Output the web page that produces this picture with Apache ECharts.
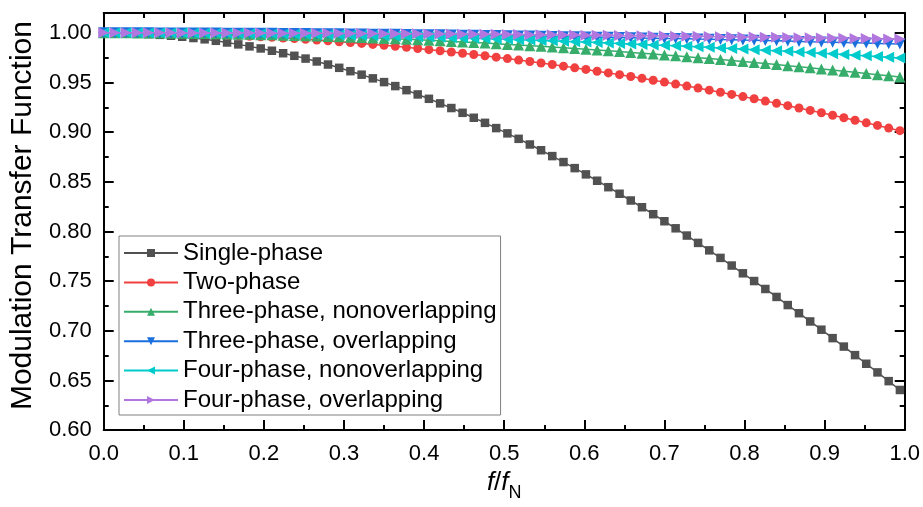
<!DOCTYPE html>
<html>
<head>
<meta charset="utf-8">
<script src="https://cdn.jsdelivr.net/npm/echarts@6/dist/echarts.min.js"></script>
<style>
html,body{margin:0;padding:0;background:#ffffff;}
#chart{width:923px;height:507px;}
</style>
</head>
<body>
<div id="chart"></div>
<script>
// ---- data ----
const freq = [0, 0.014, 0.028, 0.042, 0.056, 0.07, 0.084, 0.098, 0.112, 0.126,
  0.14, 0.154, 0.168, 0.182, 0.196, 0.21, 0.224, 0.238, 0.252, 0.266,
  0.28, 0.294, 0.308, 0.322, 0.336, 0.35, 0.364, 0.378, 0.392, 0.406,
  0.42, 0.434, 0.448, 0.462, 0.476, 0.49, 0.504, 0.518, 0.532, 0.546,
  0.56, 0.574, 0.588, 0.602, 0.616, 0.63, 0.644, 0.658, 0.672, 0.686,
  0.7, 0.714, 0.728, 0.742, 0.756, 0.77, 0.784, 0.798, 0.812, 0.826,
  0.84, 0.854, 0.868, 0.882, 0.896, 0.91, 0.924, 0.938, 0.952, 0.966,
  0.98, 0.994];

const singlePhase = [1.0000, 0.9999, 0.9997, 0.9993, 0.9987, 0.9980, 0.9971, 0.9961, 0.9948, 0.9935,
  0.9920, 0.9903, 0.9884, 0.9864, 0.9843, 0.9820, 0.9795, 0.9769, 0.9741, 0.9712,
  0.9681, 0.9648, 0.9614, 0.9579, 0.9542, 0.9504, 0.9464, 0.9423, 0.9380, 0.9336,
  0.9290, 0.9243, 0.9195, 0.9145, 0.9094, 0.9041, 0.8988, 0.8933, 0.8876, 0.8818,
  0.8759, 0.8699, 0.8638, 0.8575, 0.8511, 0.8446, 0.8380, 0.8312, 0.8244, 0.8174,
  0.8103, 0.8032, 0.7959, 0.7885, 0.7810, 0.7734, 0.7657, 0.7579, 0.7501, 0.7421,
  0.7341, 0.7259, 0.7177, 0.7094, 0.7011, 0.6926, 0.6841, 0.6755, 0.6668, 0.6581,
  0.6493, 0.6404];

const twoPhase = [1.0000, 1.0000, 0.9999, 0.9998, 0.9997, 0.9995, 0.9993, 0.9990, 0.9987, 0.9984,
  0.9980, 0.9976, 0.9971, 0.9966, 0.9961, 0.9955, 0.9948, 0.9942, 0.9935, 0.9927,
  0.9920, 0.9911, 0.9903, 0.9894, 0.9884, 0.9875, 0.9864, 0.9854, 0.9843, 0.9831,
  0.9820, 0.9807, 0.9795, 0.9782, 0.9769, 0.9755, 0.9741, 0.9726, 0.9712, 0.9696,
  0.9681, 0.9665, 0.9648, 0.9632, 0.9614, 0.9597, 0.9579, 0.9561, 0.9542, 0.9523,
  0.9504, 0.9484, 0.9464, 0.9444, 0.9423, 0.9402, 0.9380, 0.9358, 0.9336, 0.9313,
  0.9290, 0.9267, 0.9243, 0.9219, 0.9195, 0.9170, 0.9145, 0.9120, 0.9094, 0.9068,
  0.9041, 0.9015];

const threePhaseNonoverlap = [1.0000, 1.0000, 1.0000, 0.9999, 0.9999, 0.9998, 0.9997, 0.9996, 0.9994, 0.9993,
  0.9991, 0.9989, 0.9987, 0.9985, 0.9982, 0.9980, 0.9977, 0.9974, 0.9971, 0.9968,
  0.9964, 0.9961, 0.9957, 0.9953, 0.9948, 0.9944, 0.9940, 0.9935, 0.9930, 0.9925,
  0.9920, 0.9914, 0.9909, 0.9903, 0.9897, 0.9891, 0.9884, 0.9878, 0.9871, 0.9864,
  0.9857, 0.9850, 0.9843, 0.9835, 0.9828, 0.9820, 0.9812, 0.9803, 0.9795, 0.9786,
  0.9778, 0.9769, 0.9760, 0.9750, 0.9741, 0.9731, 0.9722, 0.9712, 0.9701, 0.9691,
  0.9681, 0.9670, 0.9659, 0.9648, 0.9637, 0.9626, 0.9614, 0.9603, 0.9591, 0.9579,
  0.9567, 0.9555];

const threePhaseOverlap = [1.0000, 1.0000, 1.0000, 1.0000, 1.0000, 0.9999, 0.9999, 0.9999, 0.9999, 0.9998,
  0.9998, 0.9997, 0.9997, 0.9996, 0.9996, 0.9995, 0.9994, 0.9994, 0.9993, 0.9992,
  0.9991, 0.9990, 0.9989, 0.9988, 0.9987, 0.9986, 0.9985, 0.9984, 0.9982, 0.9981,
  0.9980, 0.9978, 0.9977, 0.9976, 0.9974, 0.9973, 0.9971, 0.9969, 0.9968, 0.9966,
  0.9964, 0.9962, 0.9961, 0.9959, 0.9957, 0.9955, 0.9953, 0.9951, 0.9948, 0.9946,
  0.9944, 0.9942, 0.9940, 0.9937, 0.9935, 0.9932, 0.9930, 0.9927, 0.9925, 0.9922,
  0.9920, 0.9917, 0.9914, 0.9911, 0.9909, 0.9906, 0.9903, 0.9900, 0.9897, 0.9894,
  0.9891, 0.9888];

const fourPhaseNonoverlap = [1.0000, 1.0000, 1.0000, 1.0000, 0.9999, 0.9999, 0.9998, 0.9998, 0.9997, 0.9996,
  0.9995, 0.9994, 0.9993, 0.9991, 0.9990, 0.9989, 0.9987, 0.9985, 0.9984, 0.9982,
  0.9980, 0.9978, 0.9976, 0.9973, 0.9971, 0.9969, 0.9966, 0.9963, 0.9961, 0.9958,
  0.9955, 0.9952, 0.9948, 0.9945, 0.9942, 0.9938, 0.9935, 0.9931, 0.9927, 0.9924,
  0.9920, 0.9916, 0.9911, 0.9907, 0.9903, 0.9898, 0.9894, 0.9889, 0.9884, 0.9879,
  0.9875, 0.9869, 0.9864, 0.9859, 0.9854, 0.9848, 0.9843, 0.9837, 0.9831, 0.9826,
  0.9820, 0.9814, 0.9807, 0.9801, 0.9795, 0.9789, 0.9782, 0.9775, 0.9769, 0.9762,
  0.9755, 0.9748];

const fourPhaseOverlap = [1.0000, 1.0000, 1.0000, 1.0000, 1.0000, 1.0000, 1.0000, 0.9999, 0.9999, 0.9999,
  0.9999, 0.9998, 0.9998, 0.9998, 0.9998, 0.9997, 0.9997, 0.9996, 0.9996, 0.9995,
  0.9995, 0.9994, 0.9994, 0.9993, 0.9993, 0.9992, 0.9991, 0.9991, 0.9990, 0.9989,
  0.9989, 0.9988, 0.9987, 0.9986, 0.9985, 0.9985, 0.9984, 0.9983, 0.9982, 0.9981,
  0.9980, 0.9979, 0.9978, 0.9977, 0.9976, 0.9975, 0.9973, 0.9972, 0.9971, 0.9970,
  0.9969, 0.9967, 0.9966, 0.9965, 0.9963, 0.9962, 0.9961, 0.9959, 0.9958, 0.9956,
  0.9955, 0.9953, 0.9952, 0.9950, 0.9948, 0.9947, 0.9945, 0.9944, 0.9942, 0.9940,
  0.9938, 0.9937];

const seriesNames = ['Single-phase', 'Two-phase', 'Three-phase, nonoverlapping',
  'Three-phase, overlapping', 'Four-phase, nonoverlapping', 'Four-phase, overlapping'];
const seriesValues = [singlePhase, twoPhase, threePhaseNonoverlap,
  threePhaseOverlap, fourPhaseNonoverlap, fourPhaseOverlap];

const xTickLabels = ['0.0', '0.1', '0.2', '0.3', '0.4', '0.5', '0.6', '0.7', '0.8', '0.9', '1.0'];
const yTickLabels = ['0.60', '0.65', '0.70', '0.75', '0.80', '0.85', '0.90', '0.95', '1.00'];
const yAxisTitle = 'Modulation Transfer Function';

// ---- styling ----
const FONT = '"Liberation Sans", Arial, sans-serif';
const colors = ['#515151', '#F14040', '#37AD6B', '#1A6FDF', '#00CBCC', '#B177DE'];
const symbols = ['rect', 'circle', 'triangle', 'triangle', 'triangle', 'triangle'];
const symbolRotates = [0, 0, 0, 180, 90, -90];
const symbolSizes = [8.5, 9, 11, 11, 11, 11];

const chart = echarts.init(document.getElementById('chart'), null, {renderer: 'canvas'});

const tickStyle = {color: '#000', width: 2};
function xLabel(v) {
  const idx = Math.round(v * 10);
  return (Math.abs(v * 10 - idx) < 1e-6 && xTickLabels[idx] !== undefined) ? xTickLabels[idx] : '';
}
function yLabel(v) {
  const idx = Math.round((v - 0.6) * 20);
  return (Math.abs((v - 0.6) * 20 - idx) < 1e-6 && yTickLabels[idx] !== undefined) ? yTickLabels[idx] : '';
}

const xCommon = {
  type: 'value', min: 0, max: 1, interval: 0.1, gridIndex: 0,
  axisLine: {show: true, onZero: false, lineStyle: {color: '#000', width: 2}},
  axisTick: {show: true, inside: true, length: 10, lineStyle: tickStyle},
  minorTick: {show: true, splitNumber: 2, length: 5, lineStyle: tickStyle},
  splitLine: {show: false}, minorSplitLine: {show: false}
};
const yMajor = {
  type: 'value', min: 0.6, max: 1.02, interval: 0.05, gridIndex: 0,
  axisLine: {show: true, onZero: false, lineStyle: {color: '#000', width: 2}},
  axisTick: {show: true, inside: true, length: 10, lineStyle: tickStyle},
  splitLine: {show: false}
};
const yMinor = {
  type: 'value', min: 0.6, max: 1.02, interval: 0.025, gridIndex: 0,
  axisLine: {show: false, onZero: false},
  axisTick: {show: true, inside: true, length: 5, lineStyle: tickStyle},
  axisLabel: {show: false},
  splitLine: {show: false}
};

const option = {
  animation: false,
  backgroundColor: '#ffffff',
  grid: {left: 101, right: 17, top: 13, bottom: 69, containLabel: false},
  xAxis: [
    Object.assign({}, xCommon, {
      position: 'bottom',
      axisLabel: {show: true, formatter: xLabel, fontSize: 22, fontFamily: FONT, color: '#000', margin: 13},
      name: '{i|f}{n|/}{i|f}{s|N}',
      nameLocation: 'middle',
      nameGap: 39,
      nameTextStyle: {
        fontFamily: FONT, color: '#000', fontSize: 26,
        rich: {
          i: {fontFamily: FONT, fontStyle: 'italic', fontSize: 26, lineHeight: 26, verticalAlign: 'top', color: '#000'},
          n: {fontFamily: FONT, fontSize: 26, lineHeight: 26, verticalAlign: 'top', color: '#000'},
          s: {fontFamily: FONT, fontSize: 18, lineHeight: 32, verticalAlign: 'bottom', color: '#000'}
        }
      }
    }),
    Object.assign({}, xCommon, {position: 'top', axisLabel: {show: false}})
  ],
  yAxis: [
    Object.assign({}, yMajor, {
      position: 'left',
      axisLabel: {show: true, formatter: yLabel, fontSize: 22, fontFamily: FONT, color: '#000', margin: 12},
      name: yAxisTitle,
      nameLocation: 'middle',
      nameGap: 62,
      nameTextStyle: {fontFamily: FONT, fontSize: 30, color: '#000', padding: [0, 0, 0, 12]}
    }),
    Object.assign({}, yMinor, {position: 'left'}),
    Object.assign({}, yMajor, {position: 'right', axisLabel: {show: false}}),
    Object.assign({}, yMinor, {position: 'right'})
  ],
  legend: {
    show: true,
    orient: 'vertical',
    left: 119, top: 236,
    padding: [5, 4, 3, 4],
    borderColor: '#808080', borderWidth: 1,
    backgroundColor: '#ffffff',
    itemWidth: 54, itemHeight: 10, itemGap: 5.4,
    selectedMode: false,
    textStyle: {fontFamily: FONT, fontSize: 24, lineHeight: 24, color: '#000'},
    data: seriesNames
  },
  series: seriesNames.map((name, k) => ({
    name: name,
    type: 'line',
    xAxisIndex: 0, yAxisIndex: 0,
    data: freq.map((x, i) => [x, seriesValues[k][i]]),
    symbol: symbols[k],
    symbolRotate: symbolRotates[k],
    symbolSize: symbolSizes[k],
    showAllSymbol: true,
    clip: true,
    lineStyle: {color: colors[k], width: 1.5},
    itemStyle: {color: colors[k], borderColor: colors[k], borderWidth: 0},
    emphasis: {disabled: true},
    z: 2 + k
  }))
};
chart.setOption(option);
</script>
</body>
</html>
